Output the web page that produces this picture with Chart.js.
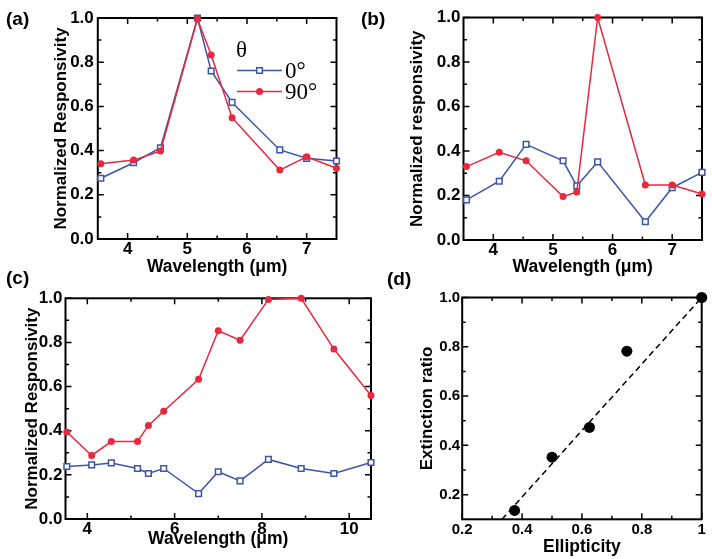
<!DOCTYPE html>
<html lang="en">
<head>
  <meta charset="UTF-8" />
  <title>Normalized responsivity</title>
  <script src="https://cdn.jsdelivr.net/npm/chart.js"></script>
  <style>
    body {
      margin: 0;
      background: #fff;
      width: 712px;
      height: 559px;
      position: relative;
      overflow: hidden;
      font-family: 'Liberation Sans', Arial, sans-serif;
    }
    canvas { position: absolute; }
    .tag {
      position: absolute;
      font-weight: bold;
      font-size: 19px;
      line-height: 19px;
      color: #000;
    }
  </style>
</head>
<body>
  <canvas id="chartA" width="356" height="280" style="left:0;top:0"></canvas>
  <canvas id="chartB" width="356" height="280" style="left:356px;top:0"></canvas>
  <canvas id="chartC" width="380" height="279" style="left:0;top:280px"></canvas>
  <canvas id="chartD" width="332" height="279" style="left:380px;top:280px"></canvas>
  <div class="tag" style="left:6px;top:9px">(a)</div>
  <div class="tag" style="left:361px;top:9px">(b)</div>
  <div class="tag" style="left:6px;top:268px">(c)</div>
  <div class="tag" style="left:387px;top:269px">(d)</div>

  <script>
    // panel (a)
    const wlA = [3.55, 4.1, 4.55, 5.17, 5.4, 5.75, 6.55, 7.0, 7.5];
    const a0 = [0.275, 0.345, 0.413, 1.0, 0.76, 0.618, 0.403, 0.365, 0.353];
    const a90 = [0.34, 0.357, 0.398, 0.995, 0.833, 0.549, 0.312, 0.372, 0.32];

    // panel (b)
    const wlB = [3.55, 4.1, 4.55, 5.17, 5.4, 5.75, 6.55, 7.0, 7.5];
    const b0 = [0.18, 0.264, 0.43, 0.356, 0.243, 0.351, 0.082, 0.235, 0.304];
    const b90 = [0.33, 0.394, 0.356, 0.195, 0.216, 1.0, 0.247, 0.247, 0.207];

    // panel (c)
    const wlC = [3.53, 4.1, 4.55, 5.15, 5.4, 5.75, 6.55, 7.0, 7.5, 8.15, 8.9, 9.65, 10.5];
    const c0 = [0.238, 0.245, 0.254, 0.229, 0.206, 0.229, 0.115, 0.214, 0.173, 0.27, 0.229, 0.206, 0.256];
    const c90 = [0.394, 0.288, 0.351, 0.351, 0.424, 0.488, 0.633, 0.853, 0.81, 0.995, 1.0, 0.77, 0.56];

    // panel (d)
    const ellipticity = [0.375, 0.5, 0.625, 0.75, 1.0];
    const extinction = [0.136, 0.352, 0.473, 0.782, 1.0];
    const fitX = [0.333, 1.0];
    const fitY = [0.1, 1.0];

    const seriesLabels = ['0°', '90°'];
    const legendTitle = 'θ';

    // ticks
    const xTicksAB = [4, 5, 6, 7];
    const xMinorAB = [4.5, 5.5, 6.5];
    const xTicksC = [4, 6, 8, 10];
    const xMinorC = [5, 7, 9];
    const yTicksR = [0, 0.2, 0.4, 0.6, 0.8, 1.0];
    const yMinorR = [0.1, 0.3, 0.5, 0.7, 0.9];
    const xTicksD = [0.2, 0.4, 0.6, 0.8, 1.0];
    const xLabelsD = ['0.2', '0.4', '0.6', '0.8', '1'];
    const xMinorD = [0.3, 0.5, 0.7, 0.9];
    const yTicksD = [0.2, 0.4, 0.6, 0.8, 1.0];
    const yMinorD = [0.3, 0.5, 0.7, 0.9];

    const BLUE = '#3b56a6';
    const RED = '#e8283c';

    Chart.defaults.font.family = "'Liberation Sans', Arial, Helvetica, sans-serif";
    Chart.defaults.font.weight = 'bold';
    Chart.defaults.color = '#000';

    const pts = (xs, ys) => xs.map((x, i) => ({ x, y: ys[i] }));

    function blueSet(xs, ys) {
      return {
        label: seriesLabels[0], data: pts(xs, ys), order: 1,
        borderColor: BLUE, borderWidth: 1.5,
        pointStyle: 'rect', pointRadius: 4,
        pointBackgroundColor: '#fff', pointBorderColor: BLUE, pointBorderWidth: 1.5,
        clip: false
      };
    }
    function redSet(xs, ys) {
      return {
        label: seriesLabels[1], data: pts(xs, ys), order: 0,
        borderColor: RED, borderWidth: 1.5,
        pointStyle: 'circle', pointRadius: 3.5,
        pointBackgroundColor: RED, pointBorderColor: RED, pointBorderWidth: 0,
        clip: false
      };
    }

    // box frame with inward ticks on all four sides
    const frameTicks = {
      id: 'frameTicks',
      beforeDatasetsDraw(chart, args, o) {
        const { ctx, chartArea: a, scales: { x, y } } = chart;
        ctx.save();
        ctx.strokeStyle = '#000';
        ctx.lineWidth = 1.5;
        ctx.beginPath();
        const vt = (vals, len) => vals.forEach(v => {
          const px = x.getPixelForValue(v);
          ctx.moveTo(px, a.bottom); ctx.lineTo(px, a.bottom - len);
          ctx.moveTo(px, a.top); ctx.lineTo(px, a.top + len);
        });
        const ht = (vals, len) => vals.forEach(v => {
          const py = y.getPixelForValue(v);
          ctx.moveTo(a.left, py); ctx.lineTo(a.left + len, py);
          ctx.moveTo(a.right, py); ctx.lineTo(a.right - len, py);
        });
        vt(o.xMajor, 6); vt(o.xMinor, 3.5);
        ht(o.yMajor, 6); ht(o.yMinor, 3.5);
        ctx.stroke();
        ctx.lineWidth = 2;
        ctx.strokeRect(a.left, a.top, a.right - a.left, a.bottom - a.top);
        ctx.restore();
      }
    };

    // legend inside panel (a)
    const legendA = {
      id: 'legendA',
      afterDatasetsDraw(chart) {
        const ctx = chart.ctx;
        ctx.save();
        ctx.font = '23px "Liberation Serif", "Times New Roman", serif';
        ctx.fillStyle = '#000';
        ctx.textBaseline = 'middle';
        ctx.fillText(legendTitle, 236, 51);
        chart.data.datasets.forEach((ds, i) => {
          const yy = 70.5 + i * 21;
          ctx.strokeStyle = ds.borderColor;
          ctx.lineWidth = ds.borderWidth;
          ctx.beginPath();
          ctx.moveTo(237, yy); ctx.lineTo(282, yy);
          ctx.stroke();
          ctx.beginPath();
          if (ds.pointStyle === 'rect') {
            const s = ds.pointRadius * Math.SQRT1_2;
            ctx.rect(259.5 - s, yy - s, 2 * s, 2 * s);
            ctx.fillStyle = ds.pointBackgroundColor;
            ctx.fill();
            ctx.lineWidth = ds.pointBorderWidth;
            ctx.stroke();
          } else {
            ctx.arc(259.5, yy, ds.pointRadius, 0, Math.PI * 2);
            ctx.fillStyle = ds.pointBackgroundColor;
            ctx.fill();
          }
          ctx.fillStyle = '#000';
          ctx.fillText(ds.label, 285, yy + 1);
        });
        ctx.restore();
      }
    };

    function makeChart(id, c) {
      return new Chart(document.getElementById(id), {
        type: 'line',
        data: { datasets: c.datasets },
        plugins: [frameTicks].concat(c.extra || []),
        options: {
          responsive: false,
          animation: false,
          devicePixelRatio: 1,
          layout: { padding: c.pad },
          plugins: {
            legend: { display: false },
            tooltip: { enabled: false },
            frameTicks: { xMajor: c.xTicks, xMinor: c.xMinor, yMajor: c.yTicks, yMinor: c.yMinor }
          },
          scales: {
            x: {
              type: 'linear', min: c.xr[0], max: c.xr[1],
              afterBuildTicks: s => { s.ticks = c.xTicks.map(v => ({ value: v })); },
              afterFit: s => { s.height = c.xH; },
              grid: { display: false, drawTicks: false },
              border: { display: false },
              ticks: { font: { size: c.tickSize, weight: 'bold' }, padding: c.xTickPad, maxRotation: 0, callback: c.xFmt },
              title: { display: true, text: c.xTitle, font: { size: 17.5, weight: 'bold' }, padding: { top: 0, bottom: c.xTitlePad } }
            },
            y: {
              type: 'linear', min: c.yr[0], max: c.yr[1],
              afterBuildTicks: s => { s.ticks = c.yTicks.map(v => ({ value: v })); },
              afterFit: s => { s.width = c.yW; },
              grid: { display: false, drawTicks: false },
              border: { display: false },
              ticks: { font: { size: c.tickSize, weight: 'bold' }, padding: c.yTickPad, callback: v => v.toFixed(1) },
              title: { display: true, text: c.yTitle, font: { size: 17, weight: 'bold' }, padding: { top: c.yTitlePad, bottom: 0 } }
            }
          }
        }
      });
    }

    makeChart('chartA', {
      datasets: [blueSet(wlA, a0), redSet(wlA, a90)],
      extra: [legendA],
      xr: [3.5, 7.5], yr: [0, 1],
      xTicks: xTicksAB, xMinor: xMinorAB, yTicks: yTicksR, yMinor: yMinorR,
      pad: { left: 0, top: 18, right: 19.5, bottom: 0 }, yW: 97.8, xH: 41,
      tickSize: 17, xTickPad: 0, yTickPad: 4,
      xFmt: v => String(v),
      xTitle: 'Wavelength (μm)', xTitlePad: 2,
      yTitle: 'Normalized Responsivity', yTitlePad: 51
    });

    makeChart('chartB', {
      datasets: [blueSet(wlB, b0), redSet(wlB, b90)],
      xr: [3.5, 7.5], yr: [0, 1],
      xTicks: xTicksAB, xMinor: xMinorAB, yTicks: yTicksR, yMinor: yMinorR,
      pad: { left: 0, top: 17.5, right: 10, bottom: 0 }, yW: 107.5, xH: 40,
      tickSize: 17, xTickPad: 0, yTickPad: 3,
      xFmt: v => String(v),
      xTitle: 'Wavelength (μm)', xTitlePad: 2,
      yTitle: 'Normalized responsivity', yTitlePad: 51
    });

    makeChart('chartC', {
      datasets: [blueSet(wlC, c0), redSet(wlC, c90)],
      xr: [3.5, 10.5], yr: [0, 1],
      xTicks: xTicksC, xMinor: xMinorC, yTicks: yTicksR, yMinor: yMinorR,
      pad: { left: 0, top: 18.3, right: 9, bottom: 0 }, yW: 65.5, xH: 40,
      tickSize: 17, xTickPad: 0, yTickPad: 3,
      xFmt: v => String(v),
      xTitle: 'Wavelength (μm)', xTitlePad: 9,
      yTitle: 'Normalized Responsivity', yTitlePad: 22
    });

    makeChart('chartD', {
      datasets: [
        {
          label: 'Extinction ratio', data: pts(ellipticity, extinction), order: 0,
          showLine: false, pointStyle: 'circle', pointRadius: 5.5,
          pointBackgroundColor: '#000', pointBorderColor: '#000', pointBorderWidth: 0,
          clip: false
        },
        {
          label: 'Fit', data: pts(fitX, fitY), order: 1,
          borderColor: '#000', borderWidth: 1.5, borderDash: [6, 4],
          pointRadius: 0, clip: false
        }
      ],
      xr: [0.2, 1.0], yr: [0.1, 1.0],
      xTicks: xTicksD, xMinor: xMinorD, yTicks: yTicksD, yMinor: yMinorD,
      pad: { left: 0, top: 17.5, right: 10.3, bottom: 0 }, yW: 82.2, xH: 39.7,
      tickSize: 15, xTickPad: 1.5, yTickPad: 2,
      xFmt: (v, i) => xLabelsD[i],
      xTitle: 'Ellipticity', xTitlePad: 1,
      yTitle: 'Extinction ratio', yTitlePad: 37
    });
  </script>
</body>
</html>
